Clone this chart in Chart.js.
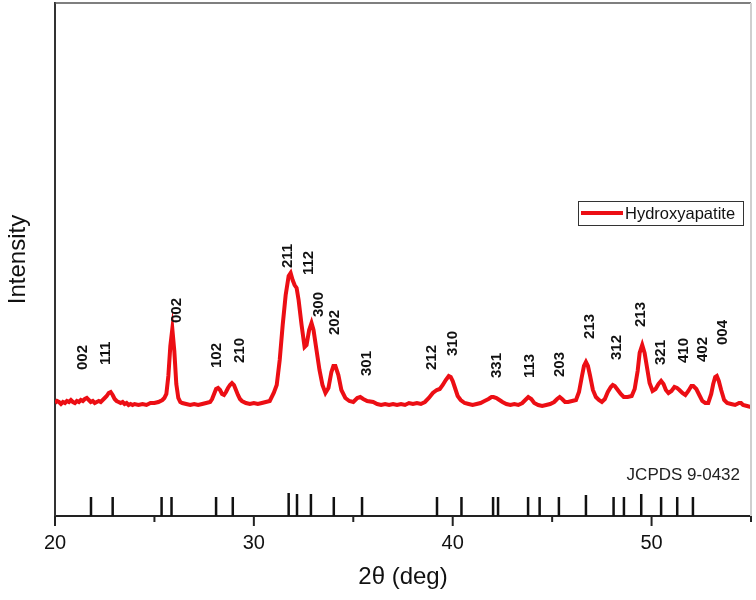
<!DOCTYPE html>
<html>
<head>
<meta charset="utf-8">
<script src="https://cdn.jsdelivr.net/npm/chart.js@4.4.1/dist/chart.umd.min.js"></script>
<style>
  html, body { margin: 0; padding: 0; background: #fff; }
  #wrap { width: 756px; height: 600px; }
</style>
</head>
<body>
<div id="wrap"><canvas id="xrdChart" width="756" height="600"></canvas></div>
<script>
// measured pattern (2theta in deg, intensity in arbitrary units)
const twoTheta = [
  20.0, 20.1, 20.2, 20.3, 20.4, 20.5, 20.6, 20.7, 20.8, 20.9,
  21.0, 21.1, 21.2, 21.3, 21.4, 21.5, 21.6, 21.7, 21.8, 21.9,
  22.0, 22.1, 22.2, 22.3, 22.4, 22.5, 22.6, 22.7, 22.8, 22.9,
  23.0, 23.1, 23.2, 23.3, 23.4, 23.5, 23.6, 23.7, 23.8, 23.9,
  24.0, 24.2, 24.4, 24.6, 24.8, 25.0, 25.2, 25.4, 25.5, 25.6,
  25.7, 25.8, 25.9, 26.0, 26.1, 26.2, 26.3, 26.4, 26.6, 26.8,
  27.0, 27.2, 27.4, 27.6, 27.8, 27.9, 28.0, 28.1, 28.2, 28.3,
  28.4, 28.5, 28.6, 28.7, 28.8, 28.9, 29.0, 29.1, 29.2, 29.3,
  29.4, 29.6, 29.8, 30.0, 30.2, 30.4, 30.6, 30.8, 31.0, 31.15,
  31.3, 31.45, 31.6, 31.75, 31.85, 31.95, 32.05, 32.15, 32.25, 32.4,
  32.55, 32.65, 32.78, 32.9, 33.0, 33.15, 33.3, 33.45, 33.6, 33.75,
  33.9, 34.0, 34.1, 34.25, 34.4, 34.6, 34.8, 35.0, 35.2, 35.35,
  35.5, 35.7, 36.0, 36.2, 36.4, 36.6, 36.8, 37.0, 37.2, 37.4,
  37.6, 37.8, 38.0, 38.2, 38.4, 38.6, 38.8, 39.0, 39.2, 39.35,
  39.5, 39.65, 39.8, 39.9, 40.0, 40.1, 40.25, 40.4, 40.6, 40.8,
  41.0, 41.2, 41.4, 41.6, 41.8, 41.95, 42.05, 42.2, 42.35, 42.5,
  42.7, 42.9, 43.1, 43.3, 43.5, 43.65, 43.8, 43.95, 44.1, 44.3,
  44.5, 44.7, 44.9, 45.1, 45.25, 45.38, 45.5, 45.65, 45.8, 46.0,
  46.2, 46.35, 46.5, 46.6, 46.7, 46.8, 46.9, 47.05, 47.2, 47.35,
  47.5, 47.65, 47.8, 47.95, 48.05, 48.15, 48.3, 48.45, 48.6, 48.8,
  49.0, 49.15, 49.3, 49.4, 49.53, 49.65, 49.8, 49.9, 50.05, 50.2,
  50.35, 50.48, 50.6, 50.72, 50.85, 51.0, 51.15, 51.28, 51.4, 51.55,
  51.7, 51.85, 52.0, 52.1, 52.25, 52.4, 52.55, 52.7, 52.85, 53.0,
  53.1, 53.2, 53.28, 53.38, 53.5, 53.65, 53.8, 54.0, 54.2, 54.4,
  54.5, 54.6, 54.8, 55.0
];
const intensity = [
  113, 115, 114, 112, 114, 113, 115, 114, 116, 114,
  113, 115, 114, 116, 115, 117, 118, 116, 114, 115,
  113, 114, 115, 114, 116, 118, 120, 123, 124, 121,
  117, 115, 114, 113, 114, 112, 113, 111, 112, 111,
  112, 111, 112, 111, 113, 113, 114, 116, 118, 122,
  140, 170, 187, 165, 132, 118, 114, 113, 112, 111,
  112, 111, 112, 113, 114, 117, 122, 127, 128, 126,
  122, 121, 124, 128, 131, 133, 131, 126, 121, 117,
  115, 113, 112, 113, 112, 113, 114, 115, 123, 131,
  156, 191, 221, 240, 243, 236, 231, 228, 216, 191,
  169, 171, 186, 193, 186, 166, 146, 131, 123, 128,
  144, 150, 150, 141, 126, 118, 115, 114, 118, 119,
  117, 115, 114, 112, 111, 112, 111, 112, 111, 112,
  111, 113, 112, 113, 112, 114, 118, 123, 126, 127,
  131, 136, 140, 139, 135, 129, 120, 116, 113, 112,
  111, 112, 113, 115, 117, 119, 119, 118, 116, 114,
  112, 111, 112, 111, 113, 116, 119, 117, 113, 111,
  110, 111, 112, 114, 117, 119, 117, 114, 114, 115,
  116, 124, 140, 150, 154, 150, 141, 126, 119, 116,
  114, 117, 124, 129, 131, 130, 126, 122, 119, 119,
  120, 127, 145, 163, 171, 163, 145, 133, 125, 127,
  132, 135, 132, 126, 123, 125, 129, 128, 126, 123,
  121, 125, 130, 130, 127, 121, 115, 113, 113, 122,
  132, 139, 140, 135, 126, 116, 113, 112, 111, 113,
  113, 111, 110, 109
];

// JCPDS 9-0432 reference lines
const refTheta = [21.81, 22.90, 25.36, 25.86, 28.10, 28.94, 31.75, 32.17, 32.87, 34.02, 35.44,
                  39.21, 40.44, 42.03, 42.28, 43.79, 44.37, 45.34, 46.70, 48.09, 48.61, 49.48,
                  50.48, 51.29, 52.08];
const refHeight = [19, 19, 19, 19, 19, 19, 23, 22, 22, 19, 19,
                   19, 19, 19, 19, 19, 19, 19, 21, 19, 19, 22,
                   19, 19, 19];

// hkl labels above the peaks
const hklText = ['002', '111', '002', '102', '210', '211', '112', '300', '202', '301',
                 '212', '310', '331', '113', '203', '213', '312', '213', '321', '410', '402', '004'];
const hklTheta = [21.41, 22.56, 26.13, 28.14, 29.30, 31.71, 32.76, 33.27, 34.07, 35.68,
                  38.94, 40.00, 42.21, 43.87, 45.38, 46.88, 48.24, 49.45, 50.45, 51.61, 52.56, 53.57];
const hklIntensity = [146, 151, 193, 148, 153, 248, 241, 199, 181, 140,
                      146, 160, 138, 138, 139, 177, 156, 189, 151, 153, 154, 171];

const xTicks = [20, 30, 40, 50];
const xMinorTicks = [25, 35, 45, 55];

const FONT = "'Liberation Sans', Arial, sans-serif";
const RED = 'rgb(236, 14, 20)';

const curve = [];
for (let i = 0; i < twoTheta.length; i++) {
    curve.push({x: twoTheta[i], y: intensity[i]});
}

const sticks = [];
for (let i = 0; i < refTheta.length; i++) {
    sticks.push({x: refTheta[i], y: 0});
    sticks.push({x: refTheta[i], y: refHeight[i]});
    sticks.push({x: refTheta[i], y: null});
}

const extras = {
    id: 'extras',
    afterDraw(chart) {
        const ctx = chart.ctx;
        const a = chart.chartArea;
        const xs = chart.scales.x;
        const ys = chart.scales.y;
        ctx.save();

        // top and right frame
        ctx.strokeStyle = '#555';
        ctx.lineWidth = 1.5;
        ctx.beginPath();
        ctx.moveTo(a.left, a.top);
        ctx.lineTo(a.right, a.top);
        ctx.stroke();
        ctx.strokeStyle = '#cfcfcf';
        ctx.lineWidth = 2;
        ctx.beginPath();
        ctx.moveTo(a.right, a.top);
        ctx.lineTo(a.right, a.bottom);
        ctx.stroke();

        // x ticks
        ctx.strokeStyle = '#222';
        ctx.lineWidth = 2;
        xTicks.forEach(v => {
            const px = xs.getPixelForValue(v);
            ctx.beginPath();
            ctx.moveTo(px, a.bottom);
            ctx.lineTo(px, a.bottom + 10);
            ctx.stroke();
        });
        xMinorTicks.forEach(v => {
            const px = xs.getPixelForValue(v);
            ctx.beginPath();
            ctx.moveTo(px, a.bottom);
            ctx.lineTo(px, a.bottom + 6);
            ctx.stroke();
        });

        // hkl labels
        ctx.fillStyle = '#111';
        ctx.font = 'bold 15px ' + FONT;
        ctx.textAlign = 'left';
        ctx.textBaseline = 'middle';
        for (let i = 0; i < hklText.length; i++) {
            const px = xs.getPixelForValue(hklTheta[i]);
            const py = ys.getPixelForValue(hklIntensity[i]);
            ctx.save();
            ctx.translate(px, py);
            ctx.rotate(-Math.PI / 2);
            ctx.fillText(hklText[i], 0, 0);
            ctx.restore();
        }

        // reference label
        ctx.font = '17px ' + FONT;
        ctx.fillStyle = '#222';
        ctx.textAlign = 'right';
        ctx.fillText('JCPDS 9-0432', a.right - 11, 475);

        // legend
        const lx = a.right - 173, ly = 201;
        ctx.fillStyle = '#fff';
        ctx.fillRect(lx, ly, 165, 24);
        ctx.strokeStyle = '#333';
        ctx.lineWidth = 1;
        ctx.strokeRect(lx + 0.5, ly + 0.5, 165, 24);
        ctx.strokeStyle = RED;
        ctx.lineWidth = 4;
        ctx.beginPath();
        ctx.moveTo(lx + 3, ly + 12);
        ctx.lineTo(lx + 45, ly + 12);
        ctx.stroke();
        ctx.fillStyle = '#111';
        ctx.font = '16.5px ' + FONT;
        ctx.textAlign = 'left';
        ctx.fillText(chart.data.datasets[0].label, lx + 47, ly + 13);

        ctx.restore();
    }
};

const ctx = document.getElementById('xrdChart').getContext('2d');
const xrdChart = new Chart(ctx, {
    type: 'line',
    data: {
        datasets: [{
            label: 'Hydroxyapatite',
            data: curve,
            borderColor: RED,
            borderWidth: 4,
            pointRadius: 0,
            tension: 0,
            fill: false
        }, {
            label: 'JCPDS 9-0432',
            data: sticks,
            borderColor: '#111',
            borderWidth: 2.5,
            pointRadius: 0,
            spanGaps: false,
            fill: false
        }]
    },
    options: {
        responsive: false,
        animation: false,
        layout: { padding: { top: 3, right: 5, left: 0, bottom: 4 } },
        plugins: {
            legend: { display: false },
            tooltip: { enabled: false }
        },
        scales: {
            x: {
                type: 'linear',
                min: 20,
                max: 55,
                afterBuildTicks: s => { s.ticks = xTicks.map(v => ({value: v})); },
                afterFit: s => { s.height = 80; },
                grid: { display: true, drawOnChartArea: false, drawTicks: true, tickLength: 10, tickColor: 'transparent' },
                border: { display: true, color: '#222', width: 2 },
                ticks: {
                    padding: 5,
                    color: '#111',
                    font: { family: FONT, size: 20 },
                    maxRotation: 0
                },
                title: {
                    display: true,
                    text: '2θ (deg)',
                    color: '#111',
                    font: { family: FONT, size: 24 }
                }
            },
            y: {
                min: 0,
                max: 513,
                afterFit: s => { s.width = 55; },
                grid: { display: false },
                border: { display: true, color: '#333', width: 2 },
                ticks: { display: false },
                title: {
                    display: true,
                    text: 'Intensity',
                    color: '#111',
                    font: { family: FONT, size: 24 }
                }
            }
        }
    },
    plugins: [extras]
});
</script>
</body>
</html>
